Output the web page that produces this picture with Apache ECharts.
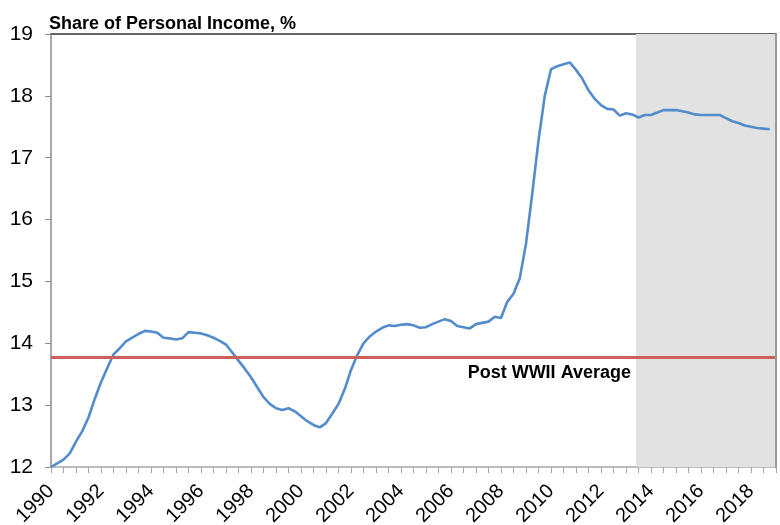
<!DOCTYPE html>
<html>
<head>
<meta charset="utf-8">
<script src="https://cdn.jsdelivr.net/npm/echarts@6/dist/echarts.min.js"></script>
<style>
  html, body { margin: 0; padding: 0; background: #fff; }
  #chart { width: 780px; height: 525px; }
</style>
</head>
<body>
<div id="chart"></div>
<script>
// quarterly data, first point = 1990 Q1
var startYear = 1990;
var shareValues = [
  12.00, 12.06, 12.12, 12.22,  // 1990
  12.41, 12.58, 12.80, 13.10,  // 1991
  13.37, 13.60, 13.82, 13.92,  // 1992
  14.03, 14.09, 14.15, 14.20,  // 1993
  14.19, 14.17, 14.09, 14.08,  // 1994
  14.06, 14.08, 14.18, 14.17,  // 1995
  14.16, 14.13, 14.09, 14.04,  // 1996
  13.98, 13.85, 13.72, 13.59,  // 1997
  13.45, 13.29, 13.13, 13.02,  // 1998
  12.95, 12.92, 12.95, 12.90,  // 1999
  12.82, 12.74, 12.68, 12.64,  // 2000
  12.71, 12.86, 13.02, 13.26,  // 2001
  13.57, 13.81, 14.00, 14.11,  // 2002
  14.19, 14.25, 14.29, 14.28,  // 2003
  14.30, 14.31, 14.29, 14.25,  // 2004
  14.26, 14.31, 14.35, 14.39,  // 2005
  14.36, 14.28, 14.26, 14.24,  // 2006
  14.31, 14.33, 14.35, 14.43,  // 2007
  14.41, 14.67, 14.80, 15.05,  // 2008
  15.61, 16.42, 17.28, 18.00,  // 2009
  18.43, 18.48, 18.51, 18.54,  // 2010
  18.42, 18.28, 18.09, 17.95,  // 2011
  17.85, 17.79, 17.78, 17.68,  // 2012
  17.72, 17.70, 17.65, 17.69,  // 2013
  17.69, 17.73, 17.77, 17.77,  // 2014
  17.77, 17.75, 17.73, 17.70,  // 2015
  17.69, 17.69, 17.69, 17.69,  // 2016
  17.64, 17.59, 17.56, 17.52,  // 2017
  17.50, 17.48, 17.47, 17.46   // 2018
];
var postWarAverage = 13.78;
var forecastStart = 2013.4;
var xRange = [1990, 2019];
var yRange = [12, 19];

var font = '"Liberation Sans", Arial, Helvetica, sans-serif';

var seriesData = shareValues.map(function (v, i) {
  return [startYear + i / 4, v];
});

var chart = echarts.init(document.getElementById('chart'), null, { renderer: 'canvas' });

var option = {
  backgroundColor: '#ffffff',
  animation: false,
  title: {
    text: 'Share of Personal Income, %',
    left: 49,
    top: 15,
    padding: 0,
    textStyle: { fontFamily: font, fontSize: 18, fontWeight: 'bold', color: '#000' }
  },
  grid: {
    left: 51, right: 4, top: 34, bottom: 58,
    containLabel: false,
    outerBoundsMode: 'none'
  },
  xAxis: [{
    type: 'value',
    min: xRange[0],
    max: xRange[1],
    interval: 0.5,
    splitLine: { show: false },
    axisLine: { show: true, onZero: false, lineStyle: { color: '#a6a6a6', width: 1.5 } },
    axisTick: { show: true, length: 6, lineStyle: { color: '#a6a6a6' } },
    axisLabel: {
      rotate: 45,
      margin: 21,
      fontFamily: font,
      fontSize: 20,
      color: '#000',
      formatter: function (v) { return (v % 2 === 0 && v < xRange[1]) ? String(v) : ''; }
    }
  }, {
    type: 'value',
    position: 'top',
    min: xRange[0],
    max: xRange[1],
    axisLine: { show: true, onZero: false, lineStyle: { color: '#333', width: 1.5 } },
    axisTick: { show: false },
    axisLabel: { show: false },
    splitLine: { show: false }
  }],
  yAxis: [{
    type: 'value',
    min: yRange[0],
    max: yRange[1],
    interval: 1,
    splitLine: { show: false },
    axisLine: { show: true, lineStyle: { color: '#8c8c8c', width: 1.5 } },
    axisTick: { show: true, length: 6, lineStyle: { color: '#8c8c8c' } },
    axisLabel: { margin: 18, fontFamily: font, fontSize: 21, color: '#000' }
  }, {
    type: 'value',
    position: 'right',
    min: yRange[0],
    max: yRange[1],
    z: 5,
    axisLine: { show: true, lineStyle: { color: '#999', width: 2 } },
    axisTick: { show: false },
    axisLabel: { show: false },
    splitLine: { show: false }
  }],
  series: [{
    name: 'Share of Personal Income',
    type: 'line',
    data: seriesData,
    showSymbol: false,
    smooth: false,
    lineStyle: { color: '#538ccb', width: 2.6 },
    markArea: {
      silent: true,
      itemStyle: { color: '#e2e2e2' },
      data: [[{ xAxis: forecastStart }, { xAxis: xRange[1] }]]
    },
    markLine: {
      silent: true,
      symbol: 'none',
      label: { show: false },
      lineStyle: { color: '#cf5f5a', width: 3, type: 'solid' },
      data: [{ yAxis: postWarAverage }]
    },
    markPoint: {
      silent: true,
      symbol: 'circle',
      symbolSize: 0,
      label: {
        show: true,
        position: 'left',
        distance: 0,
        formatter: 'Post WWII Average',
        fontFamily: font,
        fontSize: 18,
        fontWeight: 'bold',
        color: '#000'
      },
      data: [{ coord: [2013.2, 13.52] }]
    }
  }]
};

chart.setOption(option);
</script>
</body>
</html>
